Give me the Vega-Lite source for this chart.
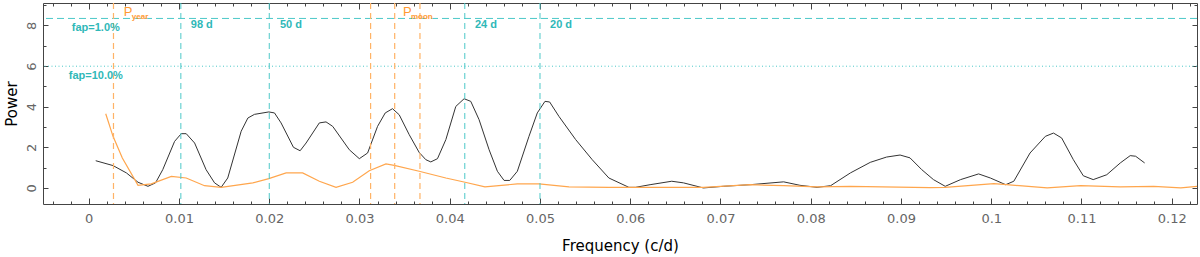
{
  "$schema": "https://vega.github.io/schema/vega-lite/v6.json",
  "width": 1154,
  "height": 201,
  "autosize": {"type": "none"},
  "padding": {"left": 43, "top": 3, "right": 3, "bottom": 53},
  "background": "white",
  "config": {
    "view": {"stroke": "#444", "strokeWidth": 1},
    "font": "DejaVu Sans",
    "axis": {"grid": false, "domain": false, "tickColor": "#444", "tickWidth": 1, "labelColor": "#666", "labelFont": "DejaVu Sans", "labelFontSize": 13, "titleFont": "DejaVu Sans", "titleFontSize": 15, "titleFontWeight": "normal", "titleColor": "#000", "labelOverlap": false, "labelFlush": false}
  },
  "datasets": {
    "pgram": [
      {"f": 0.00077, "p": 1.34}, {"f": 0.00269, "p": 1.10}, {"f": 0.00417, "p": 0.74}, {"f": 0.00546, "p": 0.28},
      {"f": 0.00656, "p": 0.08}, {"f": 0.0074, "p": 0.25}, {"f": 0.0082, "p": 0.9}, {"f": 0.00951, "p": 2.29},
      {"f": 0.01025, "p": 2.67}, {"f": 0.0108, "p": 2.67}, {"f": 0.01173, "p": 2.21}, {"f": 0.0130, "p": 0.90},
      {"f": 0.01394, "p": 0.25}, {"f": 0.01467, "p": 0.03}, {"f": 0.0154, "p": 0.49}, {"f": 0.01689, "p": 2.79},
      {"f": 0.01763, "p": 3.44}, {"f": 0.01836, "p": 3.62}, {"f": 0.01995, "p": 3.74}, {"f": 0.02058, "p": 3.69},
      {"f": 0.02131, "p": 3.2}, {"f": 0.02268, "p": 2.0}, {"f": 0.02342, "p": 1.83}, {"f": 0.02408, "p": 2.21},
      {"f": 0.02555, "p": 3.2}, {"f": 0.02629, "p": 3.25}, {"f": 0.02703, "p": 3.03}, {"f": 0.02887, "p": 1.88},
      {"f": 0.02998, "p": 1.44}, {"f": 0.0309, "p": 1.72}, {"f": 0.032, "p": 3.03}, {"f": 0.03285, "p": 3.69},
      {"f": 0.03366, "p": 3.9}, {"f": 0.0344, "p": 3.6}, {"f": 0.03551, "p": 2.62}, {"f": 0.03661, "p": 1.75},
      {"f": 0.03735, "p": 1.39}, {"f": 0.0379, "p": 1.28}, {"f": 0.03864, "p": 1.44}, {"f": 0.03957, "p": 2.38},
      {"f": 0.04067, "p": 4.01}, {"f": 0.04159, "p": 4.39}, {"f": 0.04233, "p": 4.26}, {"f": 0.04325, "p": 3.36},
      {"f": 0.04436, "p": 1.88}, {"f": 0.04528, "p": 0.82}, {"f": 0.04602, "p": 0.37}, {"f": 0.04665, "p": 0.37},
      {"f": 0.04749, "p": 0.82}, {"f": 0.04878, "p": 2.54}, {"f": 0.0497, "p": 3.69}, {"f": 0.05055, "p": 4.26},
      {"f": 0.05107, "p": 4.23}, {"f": 0.0521, "p": 3.52}, {"f": 0.05395, "p": 2.38}, {"f": 0.05579, "p": 1.39},
      {"f": 0.05763, "p": 0.49}, {"f": 0.05985, "p": 0.03}, {"f": 0.06058, "p": 0.03}, {"f": 0.0622, "p": 0.16},
      {"f": 0.0646, "p": 0.33}, {"f": 0.0659, "p": 0.25}, {"f": 0.0681, "p": 0.0}, {"f": 0.0703, "p": 0.08},
      {"f": 0.0733, "p": 0.16}, {"f": 0.077, "p": 0.3}, {"f": 0.0788, "p": 0.13}, {"f": 0.0807, "p": 0.03},
      {"f": 0.0822, "p": 0.11}, {"f": 0.0844, "p": 0.74}, {"f": 0.0866, "p": 1.26}, {"f": 0.0884, "p": 1.52},
      {"f": 0.0899, "p": 1.62}, {"f": 0.0910, "p": 1.48}, {"f": 0.0923, "p": 0.9}, {"f": 0.0936, "p": 0.41},
      {"f": 0.0949, "p": 0.08}, {"f": 0.0966, "p": 0.41}, {"f": 0.0986, "p": 0.69}, {"f": 0.0999, "p": 0.49},
      {"f": 0.1016, "p": 0.16}, {"f": 0.1025, "p": 0.33}, {"f": 0.1043, "p": 1.72}, {"f": 0.106, "p": 2.54},
      {"f": 0.1069, "p": 2.7}, {"f": 0.1078, "p": 2.46}, {"f": 0.1091, "p": 1.39}, {"f": 0.1102, "p": 0.6},
      {"f": 0.1113, "p": 0.41}, {"f": 0.1128, "p": 0.65}, {"f": 0.1143, "p": 1.23}, {"f": 0.1154, "p": 1.59},
      {"f": 0.116, "p": 1.56}, {"f": 0.117, "p": 1.23}
    ],
    "window": [
      {"f": 0.00188, "p": 3.65}, {"f": 0.00269, "p": 2.54}, {"f": 0.00372, "p": 1.47}, {"f": 0.00546, "p": 0.13},
      {"f": 0.00693, "p": 0.2}, {"f": 0.00915, "p": 0.57}, {"f": 0.0108, "p": 0.49}, {"f": 0.01283, "p": 0.11},
      {"f": 0.01467, "p": 0.03}, {"f": 0.01818, "p": 0.25}, {"f": 0.01995, "p": 0.46}, {"f": 0.02187, "p": 0.74},
      {"f": 0.0237, "p": 0.74}, {"f": 0.02555, "p": 0.33}, {"f": 0.0274, "p": 0.03}, {"f": 0.02924, "p": 0.28},
      {"f": 0.03108, "p": 0.85}, {"f": 0.03293, "p": 1.18}, {"f": 0.03385, "p": 1.11}, {"f": 0.03661, "p": 0.82},
      {"f": 0.03957, "p": 0.49}, {"f": 0.0417, "p": 0.28}, {"f": 0.0439, "p": 0.05}, {"f": 0.04749, "p": 0.2},
      {"f": 0.04989, "p": 0.2}, {"f": 0.05321, "p": 0.05}, {"f": 0.05763, "p": 0.03}, {"f": 0.0622, "p": 0.03},
      {"f": 0.0681, "p": 0.03}, {"f": 0.0733, "p": 0.16}, {"f": 0.077, "p": 0.11}, {"f": 0.0807, "p": 0.05},
      {"f": 0.0844, "p": 0.08}, {"f": 0.0932, "p": 0.02}, {"f": 0.0949, "p": 0.03}, {"f": 0.1003, "p": 0.21},
      {"f": 0.1017, "p": 0.16}, {"f": 0.1062, "p": 0.0}, {"f": 0.1099, "p": 0.11}, {"f": 0.1143, "p": 0.05},
      {"f": 0.118, "p": 0.08}, {"f": 0.121, "p": 0.0}, {"f": 0.1228, "p": 0.08}
    ],
    "orangeLines": [{"f": 0.00274}, {"f": 0.03123}, {"f": 0.0339}, {"f": 0.0367}],
    "cyanLines": [{"f": 0.010204}, {"f": 0.02}, {"f": 0.041667}, {"f": 0.05}],
    "cyanText": [
      {"f": -0.00188, "p": 7.85, "t": "fap=1.0%"},
      {"f": -0.00222, "p": 5.49, "t": "fap=10.0%"},
      {"f": 0.01131, "p": 8.03, "t": "98 d"},
      {"f": 0.02118, "p": 8.03, "t": "50 d"},
      {"f": 0.04279, "p": 8.03, "t": "24 d"},
      {"f": 0.05111, "p": 8.03, "t": "20 d"}
    ],
    "orangeMain": [{"f": 0.00388, "p": 8.67, "t": "P"}, {"f": 0.03481, "p": 8.67, "t": "P"}],
    "orangeSub": [{"f": 0.00477, "p": 8.43, "t": "year"}, {"f": 0.0357, "p": 8.43, "t": "moon"}],
    "fap": [{"p": 8.34, "k": "1"}, {"p": 5.99, "k": "10"}]
  },
  "layer": [
    {
      "data": {"name": "pgram"},
      "mark": {"type": "line", "color": "#333333", "strokeWidth": 1, "clip": true},
      "encoding": {
        "x": {"field": "f", "type": "quantitative", "scale": {"domain": [-0.00507, 0.1228], "nice": false, "zero": false},
          "axis": {"orient": "bottom", "title": "Frequency (c/d)", "titlePadding": 10,
            "values": [-0.004,-0.002,0,0.002,0.004,0.006,0.008,0.01,0.012,0.014,0.016,0.018,0.02,0.022,0.024,0.026,0.028,0.03,0.032,0.034,0.036,0.038,0.04,0.042,0.044,0.046,0.048,0.05,0.052,0.054,0.056,0.058,0.06,0.062,0.064,0.066,0.068,0.07,0.072,0.074,0.076,0.078,0.08,0.082,0.084,0.086,0.088,0.09,0.092,0.094,0.096,0.098,0.1,0.102,0.104,0.106,0.108,0.11,0.112,0.114,0.116,0.118,0.12,0.122],
            "tickSize": {"condition": {"test": "abs(datum.value*100 - round(datum.value*100)) < 0.001", "value": -6}, "value": -3},
            "labelExpr": "abs(datum.value*100 - round(datum.value*100)) < 0.001 ? format(datum.value, '~g') : ''",
            "labelPadding": 14}},
        "y": {"field": "p", "type": "quantitative", "scale": {"domain": [-0.79, 9.1], "nice": false, "zero": false},
          "axis": {"orient": "left", "title": "Power", "titlePadding": 4,
            "values": [0,1,2,3,4,5,6,7,8,9],
            "tickSize": {"condition": {"test": "datum.value % 2 == 0", "value": -5}, "value": -3},
            "labelExpr": "datum.value % 2 == 0 ? datum.label : ''",
            "labelAngle": -90, "labelPadding": 10}}
      }
    },
    {
      "data": {"name": "window"},
      "mark": {"type": "line", "color": "#ffa64d", "strokeWidth": 1.2, "clip": true},
      "encoding": {
        "x": {"field": "f", "type": "quantitative",
          "axis": {"orient": "top", "title": null, "labels": false,
            "values": [-0.004,-0.002,0,0.002,0.004,0.006,0.008,0.01,0.012,0.014,0.016,0.018,0.02,0.022,0.024,0.026,0.028,0.03,0.032,0.034,0.036,0.038,0.04,0.042,0.044,0.046,0.048,0.05,0.052,0.054,0.056,0.058,0.06,0.062,0.064,0.066,0.068,0.07,0.072,0.074,0.076,0.078,0.08,0.082,0.084,0.086,0.088,0.09,0.092,0.094,0.096,0.098,0.1,0.102,0.104,0.106,0.108,0.11,0.112,0.114,0.116,0.118,0.12,0.122],
            "tickSize": {"condition": {"test": "abs(datum.value*100 - round(datum.value*100)) < 0.001", "value": -6}, "value": -3}}},
        "y": {"field": "p", "type": "quantitative",
          "axis": {"orient": "right", "title": null, "labels": false,
            "values": [0,1,2,3,4,5,6,7,8,9],
            "tickSize": {"condition": {"test": "datum.value % 2 == 0", "value": -5}, "value": -3}}}
      }
    },
    {
      "data": {"name": "fap"},
      "transform": [{"filter": "datum.k == '1'"}],
      "mark": {"type": "rule", "color": "#4cc8c8", "strokeWidth": 1, "strokeDash": [7, 4]},
      "encoding": {"y": {"field": "p", "type": "quantitative", "axis": null}}
    },
    {
      "data": {"name": "fap"},
      "transform": [{"filter": "datum.k == '10'"}],
      "mark": {"type": "rule", "color": "#4cc8c8", "strokeWidth": 1, "strokeDash": [1, 2.5]},
      "encoding": {"y": {"field": "p", "type": "quantitative", "axis": null}}
    },
    {
      "data": {"name": "orangeLines"},
      "mark": {"type": "rule", "color": "#ffb366", "strokeWidth": 1.2, "strokeDash": [6, 4]},
      "encoding": {"x": {"field": "f", "type": "quantitative", "axis": null}}
    },
    {
      "data": {"name": "cyanLines"},
      "mark": {"type": "rule", "color": "#4cc8c8", "strokeWidth": 1, "strokeDash": [6, 4]},
      "encoding": {"x": {"field": "f", "type": "quantitative", "axis": null}}
    },
    {
      "data": {"name": "cyanText"},
      "mark": {"type": "text", "color": "#2fb8b8", "fontSize": 11, "fontWeight": "bold", "font": "Liberation Sans", "align": "left", "baseline": "middle"},
      "encoding": {"x": {"field": "f", "type": "quantitative", "axis": null}, "y": {"field": "p", "type": "quantitative", "axis": null}, "text": {"field": "t"}}
    },
    {
      "data": {"name": "orangeMain"},
      "mark": {"type": "text", "color": "#ff9a33", "fontSize": 13, "font": "Liberation Sans", "align": "left", "baseline": "middle"},
      "encoding": {"x": {"field": "f", "type": "quantitative", "axis": null}, "y": {"field": "p", "type": "quantitative", "axis": null}, "text": {"field": "t"}}
    },
    {
      "data": {"name": "orangeSub"},
      "mark": {"type": "text", "color": "#ff9a33", "fontSize": 8, "fontWeight": "bold", "font": "Liberation Sans", "align": "left", "baseline": "middle"},
      "encoding": {"x": {"field": "f", "type": "quantitative", "axis": null}, "y": {"field": "p", "type": "quantitative", "axis": null}, "text": {"field": "t"}}
    }
  ],
  "resolve": {"axis": {"x": "independent", "y": "independent"}}
}
